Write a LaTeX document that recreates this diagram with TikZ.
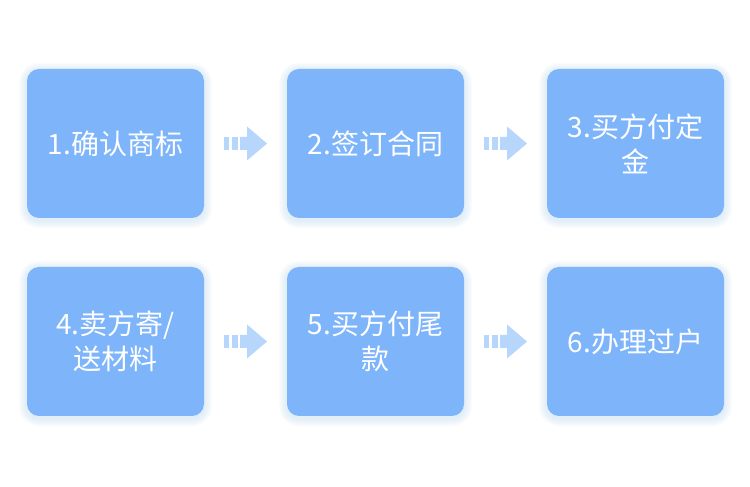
\documentclass[tikz,border=0pt]{standalone}
\usepackage{fontspec}
\setmainfont{Noto Sans CJK SC}
\usetikzlibrary{calc,backgrounds}
\definecolor{boxblue}{HTML}{7DB4FA}
\definecolor{arrowblue}{HTML}{B6D6FC}
\definecolor{glowblue}{HTML}{8FBDF8}
\tikzset{
  stepbox/.style={
    fill=boxblue, rounded corners=12pt, minimum width=177pt, minimum height=149pt,
    inner sep=0pt, text width=156pt, align=center, text=white,
    font=\fontsize{28}{35}\selectfont
  },
  glowlayer/.style={fill=glowblue, fill opacity=0.03},
  pics/flowarrow/.style={code={
    \fill[arrowblue] (-21.5,-6.5) rectangle (-16.5,6.5);
    \fill[arrowblue] (-13.5,-6.5) rectangle (-7.5,6.5);
    \fill[arrowblue] (-5.5,-6.5) -- (1.5,-6.5) -- (1.5,-17) -- (21.5,0)
                     -- (1.5,17) -- (1.5,6.5) -- (-5.5,6.5) -- cycle;
  }}
}
\begin{document}
\begin{tikzpicture}[x=1pt,y=1pt]
  \useasboundingbox (0,0) rectangle (750,487);
  % first row
  \node[stepbox] (s1) at (115.5,343.5) {1.确认商标};
  \node[stepbox] (s2) at (375.5,343.5) {2.签订合同};
  \node[stepbox] (s3) at (635.5,343.5) {3.买方付定\\金};
  % second row
  \node[stepbox] (s4) at (115.5,145.5) {4.卖方寄/\\送材料};
  \node[stepbox] (s5) at (375.5,145.5) {5.买方付尾\\款};
  \node[stepbox] (s6) at (635.5,145.5) {6.办理过户};
  % soft glow under each step
  \begin{scope}[on background layer]
    \fill[white] (0,0) rectangle (750,487);
    \foreach \s in {s1,s2,s3,s4,s5,s6}
      \foreach \k in {1,...,8}
        \fill[glowlayer, rounded corners={12pt+\k pt}]
          ($(\s.south west)+(-\k,-\k-2)$) rectangle ($(\s.north east)+(\k,\k-2)$);
  \end{scope}
  % arrows between steps
  \pic at ($(s1.east)!0.5!(s2.west)$) {flowarrow};
  \pic at ($(s2.east)!0.5!(s3.west)$) {flowarrow};
  \pic at ($(s4.east)!0.5!(s5.west)$) {flowarrow};
  \pic at ($(s5.east)!0.5!(s6.west)$) {flowarrow};
\end{tikzpicture}
\end{document}
